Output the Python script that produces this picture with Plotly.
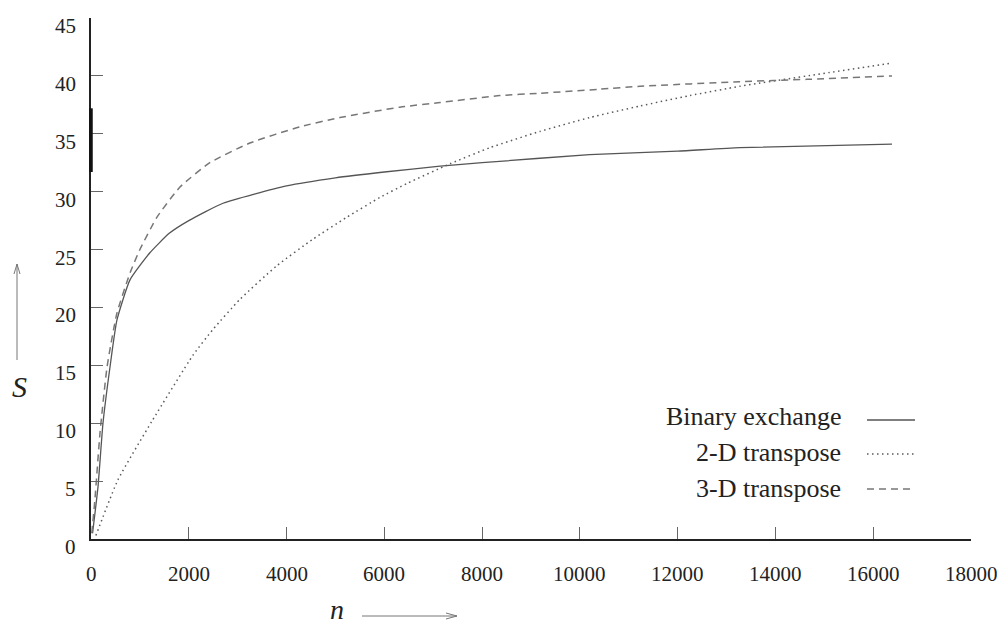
import plotly.graph_objects as go

# ---- data ----
binary_n = [32, 143, 245, 390, 530, 800, 1200, 1600, 2000, 2700, 4000, 5000, 6000, 7140, 8000, 10200, 12000, 13270, 16384]
binary_s = [0.5, 4.5, 10.0, 14.9, 18.9, 22.4, 24.7, 26.4, 27.5, 29.0, 30.5, 31.2, 31.7, 32.2, 32.5, 33.2, 33.5, 33.8, 34.1]

t2d_n = [100, 550, 1250, 2090, 2495, 3047, 3800, 4540, 5235, 5910, 6460, 7340, 8160, 9180, 10200, 11230, 12250, 13270, 15110, 16384]
t2d_s = [0.3, 5.1, 10.2, 15.9, 18.1, 20.7, 23.6, 25.9, 27.8, 29.5, 30.7, 32.4, 33.8, 35.2, 36.4, 37.4, 38.3, 39.1, 40.3, 41.1]

t3d_n = [16, 80, 185, 330, 530, 800, 1000, 1350, 1820, 2430, 3250, 4270, 5092, 6320, 7140, 8360, 9180, 10400, 11230, 13270, 14640, 16384]
t3d_s = [0.5, 3.4, 9.2, 14.9, 19.5, 23.0, 25.0, 27.8, 30.4, 32.5, 34.2, 35.6, 36.4, 37.3, 37.7, 38.3, 38.5, 38.85, 39.1, 39.5, 39.7, 40.0]

series_names = ["Binary exchange", "2-D transpose", "3-D transpose"]
x_ticks = [0, 2000, 4000, 6000, 8000, 10000, 12000, 14000, 16000, 18000]
y_ticks = [0, 5, 10, 15, 20, 25, 30, 35, 40, 45]

# ---- layout constants ----
W, H = 998, 627
L, R, T, B = 91, 27, 18, 88
PW, PH = W - L - R, H - T - B
FONT = "Liberation Serif"


def px(xp):
    return (xp - L) / PW


def py(yp):
    return (H - B - yp) / PH


styles = [
    dict(color="#555555", width=1.3, dash="solid"),
    dict(color="#5a5a5a", width=1.5, dash="1.5px,3.5px"),
    dict(color="#777777", width=1.5, dash="7px,5px"),
]

fig = go.Figure()
for name, xs, ys, st in zip(series_names, [binary_n, t2d_n, t3d_n],
                            [binary_s, t2d_s, t3d_s], styles):
    fig.add_trace(go.Scatter(x=xs, y=ys, mode="lines", name=name,
                             line=dict(shape="spline", smoothing=0.5, **st),
                             showlegend=False))

shapes = []
annotations = []

# tick labels (y labels sit slightly below their ticks in the reference)
for v in y_ticks:
    annotations.append(dict(xref="paper", yref="y", x=px(78), y=v, yshift=-8,
                            xanchor="right", yanchor="middle", showarrow=False,
                            text=str(v), font=dict(family=FONT, size=21, color="#222")))
for v in x_ticks:
    annotations.append(dict(xref="x", yref="paper", x=v, y=py(574),
                            xanchor="center", yanchor="middle", showarrow=False,
                            text=str(v), font=dict(family=FONT, size=21, color="#222")))

# custom legend (text right, line sample on the right)
text_y = [417, 452, 488]
line_y = [420, 454, 489]
for name, st, ty, ly in zip(series_names, styles, text_y, line_y):
    annotations.append(dict(xref="paper", yref="paper", x=px(843), y=py(ty),
                            xanchor="right", yanchor="middle", showarrow=False,
                            text=name, font=dict(family=FONT, size=26, color="#222")))
    shapes.append(dict(type="line", xref="paper", yref="paper",
                       x0=px(867), x1=px(915), y0=py(ly), y1=py(ly),
                       line=dict(color=st["color"], width=st["width"], dash=st["dash"])))

# axis titles with arrows
annotations.append(dict(xref="paper", yref="paper", x=px(19), y=py(386),
                        xanchor="center", yanchor="middle", showarrow=False,
                        text="<i>S</i>", font=dict(family=FONT, size=30, color="#222")))
annotations.append(dict(xref="paper", yref="paper", x=px(337), y=py(627),
                        xanchor="center", yanchor="bottom", showarrow=False,
                        text="<i>n</i>", font=dict(family=FONT, size=28, color="#222")))

arrow_col = "#777777"
arrow_lines = [
    (17, 360, 17, 264), (17, 264, 14, 274), (17, 264, 20, 274),
    (362, 616, 457, 616), (457, 616, 446, 613), (457, 616, 446, 619),
]
for x0, y0, x1, y1 in arrow_lines:
    shapes.append(dict(type="line", xref="paper", yref="paper",
                       x0=px(x0), y0=py(y0), x1=px(x1), y1=py(y1),
                       line=dict(color=arrow_col, width=1)))

# thick segment on the y axis seen in the reference
shapes.append(dict(type="line", xref="paper", yref="y", x0=0, x1=0, y0=31.7, y1=37.2,
                   line=dict(color="#111", width=3.5)))

fig.update_layout(
    width=W, height=H,
    margin=dict(l=L, r=R, t=T, b=B, autoexpand=False),
    paper_bgcolor="white", plot_bgcolor="white",
    font=dict(family=FONT, size=21, color="#222"),
    shapes=shapes, annotations=annotations,
    showlegend=False,
)
fig.update_xaxes(range=[0, 18000], tickvals=x_ticks, showticklabels=False, automargin=False,
                 showgrid=False, zeroline=False, showline=True, linecolor="#222", linewidth=2,
                 ticks="inside", ticklen=12, tickcolor="#666", tickwidth=1)
fig.update_yaxes(range=[0, 45], tickvals=y_ticks, showticklabels=False, automargin=False,
                 showgrid=False, zeroline=False, showline=True, linecolor="#222", linewidth=2,
                 ticks="inside", ticklen=12, tickcolor="#666", tickwidth=1)

fig.write_html("out.html", config={"displayModeBar": False},
               post_script="document.body.style.margin='0';document.body.style.overflow='hidden';")
